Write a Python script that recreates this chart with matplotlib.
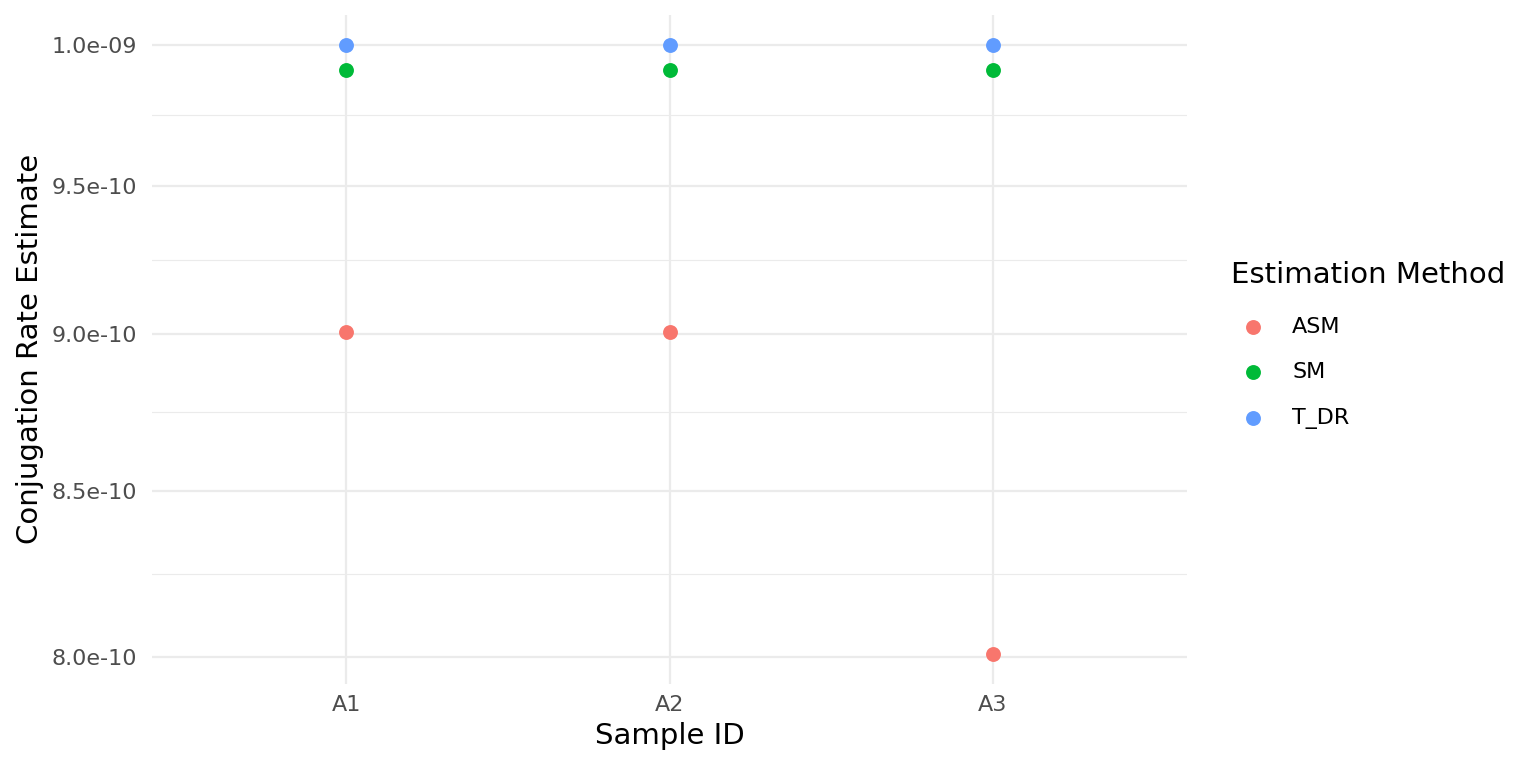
import numpy as np
import matplotlib
matplotlib.use("Agg")
import matplotlib.pyplot as plt
from matplotlib.ticker import FixedLocator, NullLocator

# data
samples = ["A1", "A2", "A3"]
methods = ["ASM", "SM", "T_DR"]
asm = [9.005e-10, 9.005e-10, 8.01e-10]
sm = [9.91e-10, 9.91e-10, 9.91e-10]
t_dr = [1.0e-9, 1.0e-9, 1.0e-9]
colors = ["#F8766D", "#00BA38", "#619CFF"]

y_breaks = [8.0e-10, 8.5e-10, 9.0e-10, 9.5e-10, 1.0e-9]
y_labels = ["8.0e-10", "8.5e-10", "9.0e-10", "9.5e-10", "1.0e-09"]

fig = plt.figure(figsize=(15.36, 7.68), dpi=100)
ax = fig.add_axes([152 / 1536, (768 - 684) / 768, 1035 / 1536, 669.5 / 768])

x = np.arange(len(samples))
for vals, name, c in zip([asm, sm, t_dr], methods, colors):
    ax.scatter(x, vals, s=115, color=c, label=name, zorder=3, linewidths=0)

ax.set_yscale("log")
# ggplot style 5% expansion in log space
allv = np.log10(asm + sm + t_dr)
lo, hi = allv.min(), allv.max()
pad = 0.05 * (hi - lo)
ax.set_ylim(10 ** (lo - pad), 10 ** (hi + pad))
ax.set_xlim(-0.6, len(samples) - 0.4)

ax.yaxis.set_major_locator(FixedLocator(y_breaks))
ax.set_yticklabels(y_labels)
lb = np.log10(y_breaks)
ax.yaxis.set_minor_locator(FixedLocator(10 ** ((lb[:-1] + lb[1:]) / 2)))
ax.yaxis.set_minor_formatter(plt.NullFormatter())
ax.set_xticks(x)
ax.set_xticklabels(samples)
ax.xaxis.set_minor_locator(NullLocator())

ax.grid(True, which="major", color="#EBEBEB", lw=1.6)
ax.grid(True, which="minor", axis="y", color="#EBEBEB", lw=0.8)
ax.set_axisbelow(True)
for s in ax.spines.values():
    s.set_visible(False)
ax.tick_params(which="both", length=0)
ax.tick_params(axis="y", pad=10.5, labelsize=16, labelcolor="#4D4D4D")
ax.tick_params(axis="x", pad=8, labelsize=16, labelcolor="#4D4D4D")

ax.set_xlabel("Sample ID", fontsize=21, labelpad=5)
ax.set_ylabel("Conjugation Rate Estimate", fontsize=21, labelpad=6)

leg = fig.legend(title="Estimation Method", loc="upper left",
                 bbox_to_anchor=(1222 / 1536, 1 - 252 / 768),
                 frameon=False, fontsize=16, title_fontsize=21,
                 markerscale=1.0, handletextpad=0.75, labelspacing=1.15,
                 alignment="left", borderaxespad=0)
leg._legend_box.sep = 20

fig.savefig("out.png", dpi=100, facecolor="white")
